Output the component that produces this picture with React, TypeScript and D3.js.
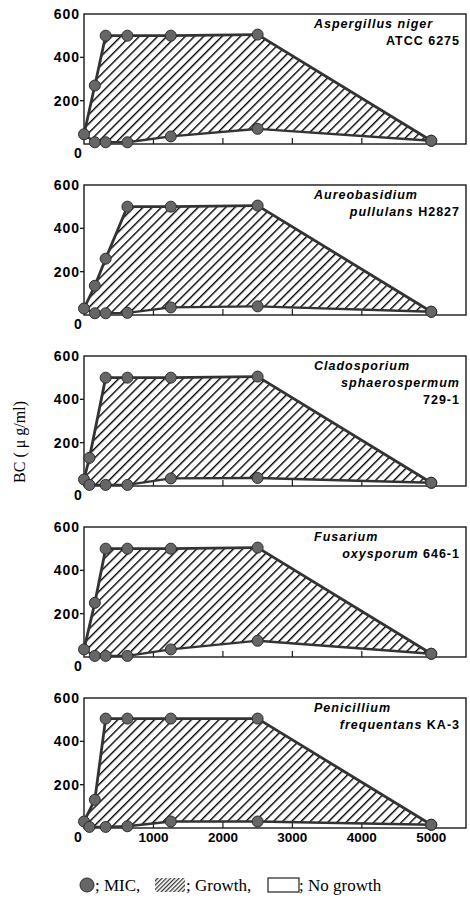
import React, { Component } from "react";
import * as d3 from "d3";

// one entry per fungus, top to bottom
const labelLines = [
  ["Aspergillus niger", "ATCC 6275"],
  ["Aureobasidium", "pullulans H2827"],
  ["Cladosporium", "sphaerospermum", "729-1"],
  ["Fusarium", "oxysporum 646-1"],
  ["Penicillium", "frequentans KA-3"],
];
const strains = ["ATCC 6275", "H2827", "729-1", "646-1", "KA-3"];

// MIC points [other agent conc, BC conc] on the upper edge of the growth area
const upperMic = [
  [[0, 45], [156, 270], [312, 500], [625, 500], [1250, 500], [2500, 505], [5000, 15]],
  [[0, 30], [156, 135], [312, 260], [625, 500], [1250, 500], [2500, 505], [5000, 15]],
  [[0, 30], [78, 130], [312, 500], [625, 500], [1250, 500], [2500, 505], [5000, 15]],
  [[0, 35], [156, 250], [312, 500], [625, 500], [1250, 500], [2500, 505], [5000, 15]],
  [[0, 30], [156, 130], [312, 505], [625, 505], [1250, 505], [2500, 505], [5000, 15]],
];
// MIC points on the lower edge
const lowerMic = [
  [[156, 8], [312, 8], [625, 8], [1250, 35], [2500, 70], [5000, 15]],
  [[156, 8], [312, 8], [625, 10], [1250, 35], [2500, 40], [5000, 15]],
  [[78, 5], [312, 5], [625, 5], [1250, 35], [2500, 37], [5000, 15]],
  [[156, 5], [312, 5], [625, 5], [1250, 35], [2500, 75], [5000, 15]],
  [[78, 5], [312, 5], [625, 8], [1250, 30], [2500, 30], [5000, 15]],
];

const yTicks = [200, 400, 600];
const xTicks = [1000, 2000, 3000, 4000, 5000];

const sans = "'Liberation Sans', Arial, sans-serif";
const serif = "'Liberation Serif', 'Times New Roman', serif";

class App extends Component {
  svgRef = React.createRef<SVGSVGElement>();

  componentDidMount() {
    this.renderChart();
  }

  componentDidUpdate() {
    this.renderChart();
  }

  renderChart() {
    const svg = d3.select(this.svgRef.current);
    svg.selectAll("*").remove();

    const left = 84, right = 466, panelH = 130, gap = 171, top0 = 14;
    const x = d3.scaleLinear().domain([0, 5500]).range([left, right]);

    const defs = svg.append("defs");
    const hatch = (id: string, size: number, w: number) => {
      const p = defs.append("pattern")
        .attr("id", id)
        .attr("patternUnits", "userSpaceOnUse")
        .attr("width", size)
        .attr("height", size)
        .attr("patternTransform", "rotate(45)");
      p.append("line")
        .attr("x1", 0.7).attr("y1", 0)
        .attr("x2", 0.7).attr("y2", size)
        .attr("stroke", "#000")
        .attr("stroke-width", w);
    };
    hatch("hatch", 6.5, 1.4);
    hatch("hatchSmall", 3, 1);

    svg.append("rect").attr("width", 470).attr("height", 903).attr("fill", "#fff");

    labelLines.forEach((lines, i) => {
      const top = top0 + i * gap, bottom = top + panelH;
      const y = d3.scaleLinear().domain([0, 600]).range([bottom, top]);
      const g = svg.append("g");

      const up = upperMic[i];
      const lo = [up[0], ...lowerMic[i]];
      const line = d3.line<number[]>().x(d => x(d[0])).y(d => y(d[1]));

      // growth area
      g.append("path")
        .attr("d", line([...up, ...lo.slice().reverse()]) + "Z")
        .attr("fill", "url(#hatch)");

      // frame
      g.append("rect")
        .attr("x", left).attr("y", top)
        .attr("width", right - left).attr("height", panelH)
        .attr("fill", "none")
        .attr("stroke", "#1a1a1a")
        .attr("stroke-width", 1.4);

      // inner x ticks
      g.selectAll(".xt").data(xTicks.slice(0, 4)).join("line")
        .attr("x1", d => x(d)).attr("x2", d => x(d))
        .attr("y1", bottom).attr("y2", bottom - 6)
        .attr("stroke", "#1a1a1a").attr("stroke-width", 1.2);

      // y axis ticks & labels
      g.selectAll(".yt").data(yTicks.slice(0, 2)).join("line")
        .attr("x1", left - 4).attr("x2", left)
        .attr("y1", d => y(d)).attr("y2", d => y(d))
        .attr("stroke", "#1a1a1a").attr("stroke-width", 1.3);
      g.selectAll(".yl").data(yTicks).join("text")
        .attr("x", left - 4)
        .attr("y", d => y(d) + 5)
        .attr("text-anchor", "end")
        .attr("font-family", sans).attr("font-weight", 700)
        .attr("font-size", 14).attr("letter-spacing", 1)
        .text(d => d);
      g.append("text")
        .attr("x", left - 6).attr("y", bottom + 14)
        .attr("text-anchor", "middle")
        .attr("font-family", sans).attr("font-weight", 700)
        .attr("font-size", 14)
        .text("0");

      // MIC lines
      g.append("path").attr("d", line(up))
        .attr("fill", "none").attr("stroke", "#333").attr("stroke-width", 2.8);
      g.append("path").attr("d", line(lo))
        .attr("fill", "none").attr("stroke", "#333").attr("stroke-width", 2.4);

      g.selectAll("circle").data([...up, ...lowerMic[i]]).join("circle")
        .attr("cx", d => x(d[0])).attr("cy", d => y(d[1]))
        .attr("r", 5.5)
        .attr("fill", "#666")
        .attr("stroke", "#2e2e2e").attr("stroke-width", 1);

      // species label
      lines.forEach((txt, k) => {
        const t = g.append("text")
          .attr("x", k === 0 ? right - 152 : right - 6)
          .attr("y", top + 14 + k * 17)
          .attr("text-anchor", k === 0 ? "start" : "end")
          .attr("font-family", sans).attr("font-weight", 700)
          .attr("font-size", 12.5).attr("letter-spacing", 1);
        const s = strains[i];
        const idx = txt.indexOf(s);
        if (idx < 0) {
          t.append("tspan").attr("font-style", "italic").text(txt);
        } else {
          if (idx > 0) t.append("tspan").attr("font-style", "italic").text(txt.slice(0, idx));
          t.append("tspan").text(s);
        }
      });

      if (i === labelLines.length - 1) {
        g.selectAll(".xl").data(xTicks).join("text")
          .attr("x", d => x(d)).attr("y", bottom + 14)
          .attr("text-anchor", "middle")
          .attr("font-family", sans).attr("font-weight", 700)
          .attr("font-size", 13.5)
          .text(d => d);
      }
    });

    // y axis title
    svg.append("text")
      .attr("transform", "translate(25,442) rotate(-90)")
      .attr("text-anchor", "middle")
      .attr("font-family", serif).attr("font-size", 16)
      .text("BC ( \u03bc g/ml)");

    // legend
    const ly = 886;
    const lg = svg.append("g").attr("font-family", serif).attr("font-size", 17);
    lg.append("circle").attr("cx", 87).attr("cy", ly - 1).attr("r", 7)
      .attr("fill", "#666").attr("stroke", "#2e2e2e");
    lg.append("text").attr("x", 95).attr("y", ly + 5).text("; MIC,");
    lg.append("rect").attr("x", 155).attr("y", ly - 8).attr("width", 30).attr("height", 14)
      .attr("fill", "url(#hatchSmall)");
    lg.append("text").attr("x", 186).attr("y", ly + 5).text("; Growth,");
    lg.append("rect").attr("x", 268).attr("y", ly - 8).attr("width", 31).attr("height", 14)
      .attr("fill", "none").attr("stroke", "#222").attr("stroke-width", 1.2);
    lg.append("text").attr("x", 299).attr("y", ly + 5).text("; No growth");
  }

  render() {
    return (
      <svg
        ref={this.svgRef}
        width={470}
        height={903}
        style={{ position: "absolute", left: 0, top: 0 }}
      ></svg>
    );
  }
}

export default App;
